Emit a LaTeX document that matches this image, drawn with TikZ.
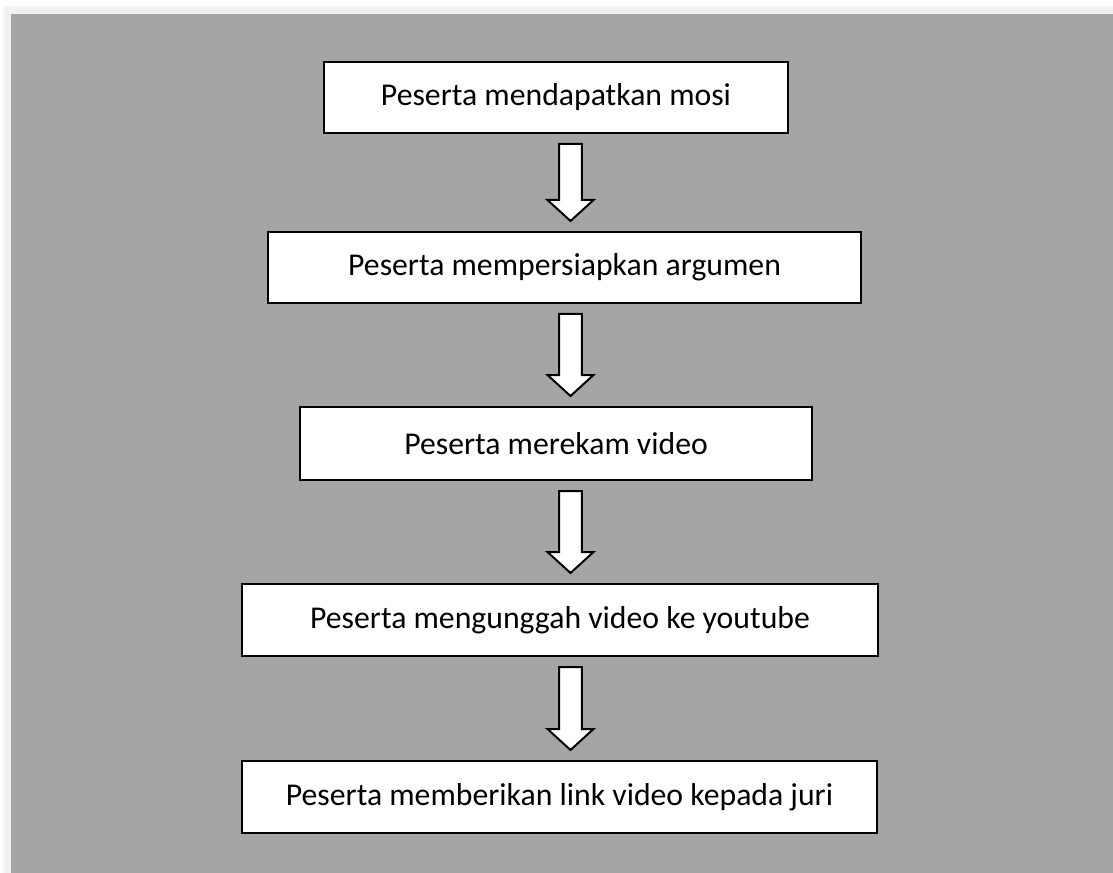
\documentclass[tikz,border=0pt]{standalone}
\usepackage{fontspec}
\setmainfont{Carlito}
\usetikzlibrary{calc}
\usetikzlibrary{positioning}
\definecolor{bggray}{HTML}{A5A5A5}
\definecolor{pagegray}{HTML}{F2F2F2}
\def\pxu{0.75pt}
\tikzset{stage/.style={rectangle,draw=black,fill=white,line width=1.5pt,minimum height=72*\pxu,inner sep=0pt,font=\fontsize{23.8}{28}\selectfont}}
\tikzset{fatarrow/.style={draw=black,fill=white,line width=1.5pt,line join=miter,
  to path={let \p1=(\tikztostart), \p2=(\tikztotarget) in
    (\x1-8.6pt,\y1-7.5pt) -- (\x1+8.6pt,\y1-7.5pt) -- (\x1+8.6pt,\y2+23.25pt)
    -- (\x1+17.25pt,\y2+23.25pt) -- (\x1,\y2+7.5pt) -- (\x1-17.25pt,\y2+23.25pt)
    -- (\x1-8.6pt,\y2+23.25pt) -- cycle}}}

\begin{document}
\begin{tikzpicture}[x=\pxu,y=-\pxu]
\useasboundingbox (0,0) rectangle (1113,873);
\fill[pagegray] (3,6) rectangle (1113,873);
\fill[bggray] (11,14) rectangle (1113,873);
\coordinate (axis) at (570.5,0);

\node[stage, minimum width=464*\pxu, minimum height=71*\pxu] (mosi) at (556,97.5) {Peserta mendapatkan mosi};
\node[stage, minimum width=593*\pxu, minimum height=71*\pxu] (argumen) at (564.5,267.5) {Peserta mempersiapkan argumen};
\node[stage, minimum width=512*\pxu, minimum height=73*\pxu] (rekam) at (556,443.5) {Peserta merekam video};
\node[stage, minimum width=636*\pxu] (unggah) at (560,620) {Peserta mengunggah video ke youtube};
\node[stage, minimum width=635*\pxu] (juri) at (559.5,797) {Peserta memberikan link video kepada juri};

\draw[fatarrow] (mosi.south -| axis) to (argumen.north -| axis);
\draw[fatarrow] (argumen.south -| axis) to (rekam.north -| axis);
\draw[fatarrow] (rekam.south -| axis) to (unggah.north -| axis);
\draw[fatarrow] (unggah.south -| axis) to (juri.north -| axis);
\end{tikzpicture}
\end{document}
